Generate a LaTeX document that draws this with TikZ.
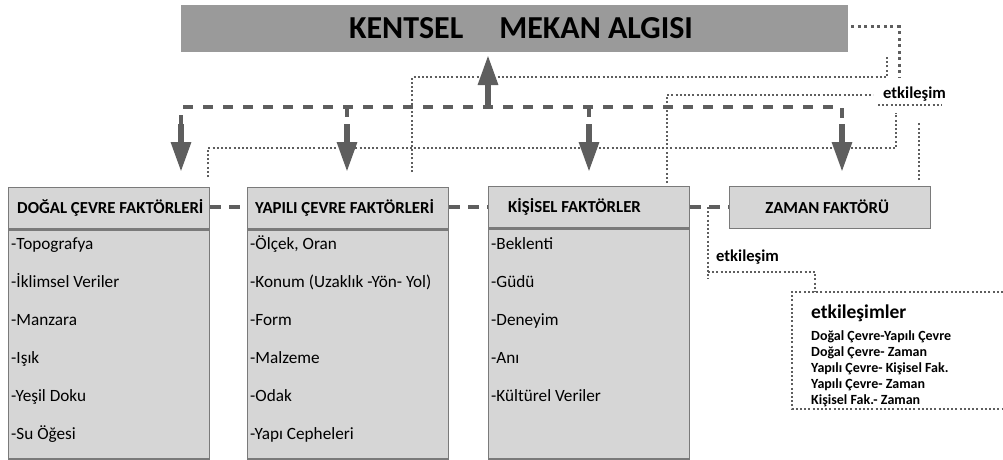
\documentclass[tikz,border=0pt]{standalone}
\usepackage{fontspec}
\setmainfont{Carlito}
\usetikzlibrary{arrows.meta}
\definecolor{boxfill}{HTML}{D6D6D6}
\definecolor{boxline}{HTML}{7A7A7A}
\definecolor{titlefill}{HTML}{9A9A9A}
\definecolor{arrowgray}{HTML}{5E5E5E}
\definecolor{dotgray}{HTML}{5E5E5E}
\begin{document}
\begin{tikzpicture}[
    x=1pt, y=-1pt,
    titlebox/.style={draw=none, fill=titlefill, anchor=north west, minimum width=667pt, minimum height=47pt, inner sep=0pt},
    titletxt/.style={font=\fontsize{32}{36}\selectfont\bfseries, inner sep=0pt},
    hdr/.style={draw=boxline, fill=boxfill, line width=1.3pt, anchor=north west, minimum width=201pt, minimum height=41pt, inner sep=0pt},
    body/.style={draw=boxline, fill=boxfill, line width=1.3pt, anchor=north west, minimum width=201pt, minimum height=229pt, inner sep=0pt},
    hdrtxt/.style={font=\fontsize{16.8}{19}\selectfont\bfseries, anchor=west, inner sep=0pt},
    item/.style={font=\fontsize{17.2}{20}\selectfont, anchor=base west, inner sep=0pt},
    etk/.style={font=\fontsize{16.6}{19}\selectfont\bfseries, anchor=west, inner sep=0pt},
    legitem/.style={font=\fontsize{14}{16}\selectfont\bfseries, anchor=base west, inner sep=0pt},
    bigarrow/.style={draw=arrowgray, line width=6pt, -{Triangle[width=19pt, length=30pt]}},
    dashlink/.style={draw=arrowgray, line width=4.5pt, dash pattern=on 10pt off 10pt},
    dotlink/.style={draw=dotgray, line width=2.1pt, dash pattern=on 2pt off 2.2pt},
    dotbig/.style={draw=dotgray, line width=3pt, dash pattern=on 3pt off 3.5pt}
]
\useasboundingbox (0,0) rectangle (1003,460);

% title
\node[titlebox] (kentsel) at (181,5) {};
\node[titletxt] (kentselT) at (521,28) {KENTSEL\hspace{36pt}MEKAN ALGISI};

% factor boxes
\node[hdr] (dogal) at (8,187) {};
\node[hdrtxt] (dogalT) at ([xshift=9pt]dogal.west) {DOĞAL ÇEVRE FAKTÖRLERİ};
\node[body] (dogalB) at (dogal.south west) {};

\node[hdr] (yapili) at (247,187) {};
\node[hdrtxt] (yapiliT) at ([xshift=8pt]yapili.west) {YAPILI ÇEVRE FAKTÖRLERİ};
\node[body] (yapiliB) at (yapili.south west) {};

\node[hdr] (kisisel) at (488,186) {};
\node[hdrtxt] (kisiselT) at ([xshift=20pt]kisisel.west) {KİŞİSEL FAKTÖRLER};
\node[body, minimum height=230pt] (kisiselB) at (kisisel.south west) {};

\node[hdr, minimum height=42pt] (zaman) at (729,186) {};
\node[hdrtxt, anchor=center] (zamanT) at ([xshift=-3pt, yshift=1pt]zaman.center) {ZAMAN FAKTÖRÜ};

% items
\foreach \t [count=\i] in {-Topografya, -İklimsel Veriler, -Manzara, -Işık, -Yeşil Doku, -Su Öğesi}
    \node[item] (dogal\i) at (11,{249+38*(\i-1)}) {\t};
\foreach \t [count=\i] in {{-Ölçek, Oran}, -Konum (Uzaklık -Yön- Yol), -Form, -Malzeme, -Odak, -Yapı Cepheleri}
    \node[item] (yapili\i) at (250,{249+38*(\i-1)}) {\t};
\foreach \t [count=\i] in {-Beklenti, -Güdü, -Deneyim, -Anı, -Kültürel Veriler}
    \node[item] (kisisel\i) at (491,{249+38*(\i-1)}) {\t};

% dashed bus and arrows
\draw[dashlink] (181,125) -- (181,107) -- (842,107) -- (842,125);
\draw[dashlink] (347,107) -- (347,125);
\draw[dashlink] (589,107) -- (589,125);
\draw[bigarrow] (181,124) -- (181,172);
\draw[bigarrow] (347,124) -- (347,172);
\draw[bigarrow] (589,124) -- (589,172);
\draw[bigarrow] (842,124) -- (842,172);
\draw[bigarrow] (488,105) -- (488,55);

% dashed links between boxes
\draw[dashlink, dash pattern=on 11pt off 8pt] (dogal.east |- 0,207) -- (yapili.west |- 0,207);
\draw[dashlink, dash pattern=on 11pt off 8pt] (yapili.east |- 0,207) -- (kisisel.west |- 0,207);
\draw[dashlink, dash pattern=on 11pt off 8pt] (kisisel.east |- 0,207) -- (zaman.west |- 0,207);

% dotted interaction lines
\draw[dotbig] ([xshift=3pt]kentsel.east |- 0,27) -- (899,27) -- (899,77);
\draw[dotlink] (412,172) -- (412,77) -- (887,77) -- (887,57);
\node[etk] (etk1) at (883,94) {etkileşim};
\draw[dotlink] (667,183) -- (667,95) -- (873,95);
\draw[dotlink] (878,105) -- (942,105);
\draw[dotlink] (208,177) -- (208,148) -- (896,148) -- (896,113);
\draw[dotlink] (919,180) -- (919,122);

\node[etk] (etk2) at (716,257) {etkileşim};
\draw[dotlink] (708,207) -- (708,279);
\draw[dotlink] (708,272) -- (815,272) -- (815,292);

% legend
\draw[dotlink] (1003,292) -- (792,292) -- (792,409) -- (1003,409);
\node[etk, font=\fontsize{19.5}{22}\selectfont\bfseries] (legT) at (811,313) {etkileşimler};
\foreach \t [count=\i] in {Doğal Çevre-Yapılı Çevre, Doğal Çevre- Zaman, Yapılı Çevre- Kişisel Fak., Yapılı Çevre- Zaman, Kişisel Fak.- Zaman}
    \node[legitem] (leg\i) at (811,{340+16.2*(\i-1)}) {\t};
\end{tikzpicture}
\end{document}
